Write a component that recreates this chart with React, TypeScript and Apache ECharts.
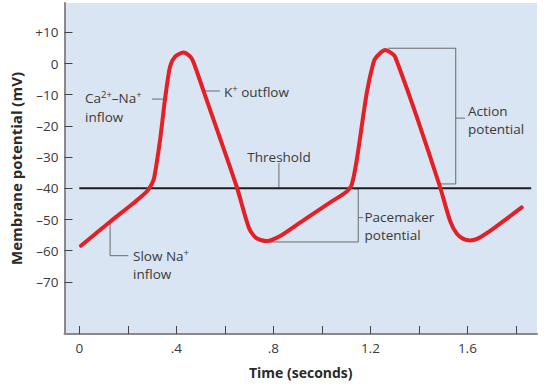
import React, { useEffect, useRef } from "react";
import * as echarts from "echarts";

// Membrane potential trace (time in s, potential in mV)
const potentialTrace: [number, number][] = [
  [0.007, -58.4], [0.127, -50.7], [0.223, -44.8], [0.278, -41.1], [0.299, -38.6],
  [0.309, -36.5], [0.333, -24.5], [0.353, -11.7], [0.374, -1.0], [0.395, 2.2],
  [0.429, 3.5], [0.455, 2.4], [0.47, 0.6], [0.511, -8.5], [0.649, -39.5],
  [0.7, -52.8], [0.73, -56.0], [0.773, -56.9], [0.828, -55.3], [0.91, -51.0],
  [1.033, -44.6], [1.103, -41.0], [1.123, -38.9], [1.144, -30.9], [1.185, -9.5],
  [1.212, 0.1], [1.226, 2.2], [1.261, 4.35], [1.29, 3.2], [1.302, 2.2],
  [1.391, -17.0], [1.487, -39.5], [1.529, -50.5], [1.557, -54.6], [1.585, -56.3],
  [1.611, -56.7], [1.64, -56.2], [1.68, -54.4], [1.824, -46.1],
];

const thresholdLine: [number, number][] = [[0, -40], [1.863, -40]];

const xTickValues = [0, 0.2, 0.4, 0.6, 0.8, 1.0, 1.2, 1.4, 1.6, 1.8];
const xLabelValues = [0, 0.4, 0.8, 1.2, 1.6];
const yLabelValues = [10, 0, -10, -20, -30, -40, -50, -60, -70];

// annotation leader lines (data coordinates)
const caNaLeader: [number, number][] = [[0.3, -11.4], [0.362, -11.4]];
const kLeader: [number, number][] = [[0.518, -8.8], [0.58, -8.8]];
const thresholdLeader: [number, number][] = [[0.823, -31.9], [0.823, -40]];
const slowNaLeader: [number, number][] = [[0.127, -50.7], [0.127, -61.6], [0.202, -61.6]];
const pacemakerBracket: [number, number][] = [[1.134, -40.2], [1.15, -40.2], [1.15, -57.2], [0.778, -57.2]];
const pacemakerTick: [number, number][] = [[1.15, -49.4], [1.17, -49.4]];
const actionBracket: [number, number][] = [[1.273, 4.9], [1.552, 4.9], [1.552, -38.6], [1.487, -38.6]];
const actionTick: [number, number][] = [[1.552, -17.5], [1.59, -17.5]];

const FONT = "'Open Sans', sans-serif";
const TXT = "#3a3a3a";

function minusFmt(v: number): string {
  if (v > 0) return "+" + v;
  if (v < 0) return "\u2013" + Math.abs(v);
  return "0";
}

export default function App() {
  const ref = useRef<HTMLDivElement>(null);
  useEffect(() => {
    if (!ref.current) return;
    const chart = echarts.init(ref.current, undefined, { renderer: "svg" });
    const leader = (data: [number, number][]) => ({
      type: "line",
      data,
      symbol: "none",
      silent: true,
      lineStyle: { color: "#6b6b6b", width: 1 },
      z: 1,
    });
    const rich = {
      sup: { fontSize: 9.5, verticalAlign: "top", padding: [0, 0, 7, 0], fontFamily: FONT, fill: TXT, color: TXT },
    };
    const txt = (x: number, y: number, text: string, align: string = "left") => ({
      type: "text",
      x,
      y,
      style: {
        text,
        fill: TXT,
        font: `13.5px ${FONT}`,
        fontSize: 13.5,
        fontFamily: FONT,
        textAlign: align,
        textVerticalAlign: "middle",
        verticalAlign: "middle",
        rich,
      },
    });
    chart.setOption({
      animation: false,
      backgroundColor: "#ffffff",
      textStyle: { fontFamily: FONT },
      grid: {
        left: 64.5,
        right: 16,
        top: 3,
        bottom: 58,
        show: true,
        backgroundColor: "#d9e5f2",
        borderWidth: 0,
      },
      xAxis: {
        type: "value",
        min: -0.061,
        max: 1.887,
        name: "Time (seconds)",
        nameLocation: "middle",
        nameGap: 31,
        nameTextStyle: { fontWeight: "bold", fontSize: 14, color: "#2a2a2a", fontFamily: FONT },
        axisLine: { show: true, onZero: false, lineStyle: { color: "#8a8a8a", width: 2 } },
        axisTick: { show: true, inside: true, length: 8, customValues: xTickValues, lineStyle: { color: "#444", width: 1 } },
        axisLabel: {
          customValues: xLabelValues,
          margin: 7,
          color: TXT,
          fontSize: 13.5,
          fontFamily: FONT,
          formatter: (v: number) => (v === 0 ? "0" : String(v).replace(/^0/, "")),
        },
        splitLine: { show: false },
      },
      yAxis: {
        type: "value",
        min: -86.7,
        max: 19.4,
        name: "Membrane potential (mV)",
        nameLocation: "middle",
        nameGap: 41,
        nameTextStyle: { fontWeight: "bold", fontSize: 15, color: "#2a2a2a", fontFamily: FONT },
        axisLine: { show: true, onZero: false, lineStyle: { color: "#8a8a8a", width: 2 } },
        axisTick: { show: true, inside: true, length: 8, customValues: yLabelValues, lineStyle: { color: "#444", width: 1 } },
        axisLabel: {
          customValues: yLabelValues,
          margin: 6,
          color: TXT,
          fontSize: 13.5,
          fontFamily: FONT,
          formatter: minusFmt,
        },
        splitLine: { show: false },
      },
      series: [
        {
          type: "line",
          data: thresholdLine,
          symbol: "none",
          silent: true,
          lineStyle: { color: "#1e1e1e", width: 2 },
          z: 2,
        },
        leader(caNaLeader),
        leader(kLeader),
        leader(thresholdLeader),
        leader(slowNaLeader),
        leader(pacemakerBracket),
        leader(pacemakerTick),
        leader(actionBracket),
        leader(actionTick),
        {
          type: "line",
          data: potentialTrace,
          symbol: "none",
          smooth: 0.25,
          silent: true,
          lineStyle: { color: "#e41f26", width: 4, cap: "round", join: "round" },
          z: 3,
        },
      ],
      graphic: [
        txt(85, 98, "Ca{sup|2+}\u2013Na{sup|+}"),
        txt(85, 116.5, "inflow"),
        txt(224, 92, "K{sup|+} outflow"),
        txt(279, 157, "Threshold", "center"),
        txt(468, 110.5, "Action"),
        txt(468, 128.5, "potential"),
        txt(364.5, 217, "Pacemaker"),
        txt(364.5, 235, "potential"),
        txt(133, 256, "Slow Na{sup|+}"),
        txt(133, 274, "inflow"),
      ],
    });
    return () => chart.dispose();
  }, []);
  return (
    <div
      ref={ref}
      style={{ position: "fixed", left: 0, top: 0, width: 553, height: 392 }}
    />
  );
}
